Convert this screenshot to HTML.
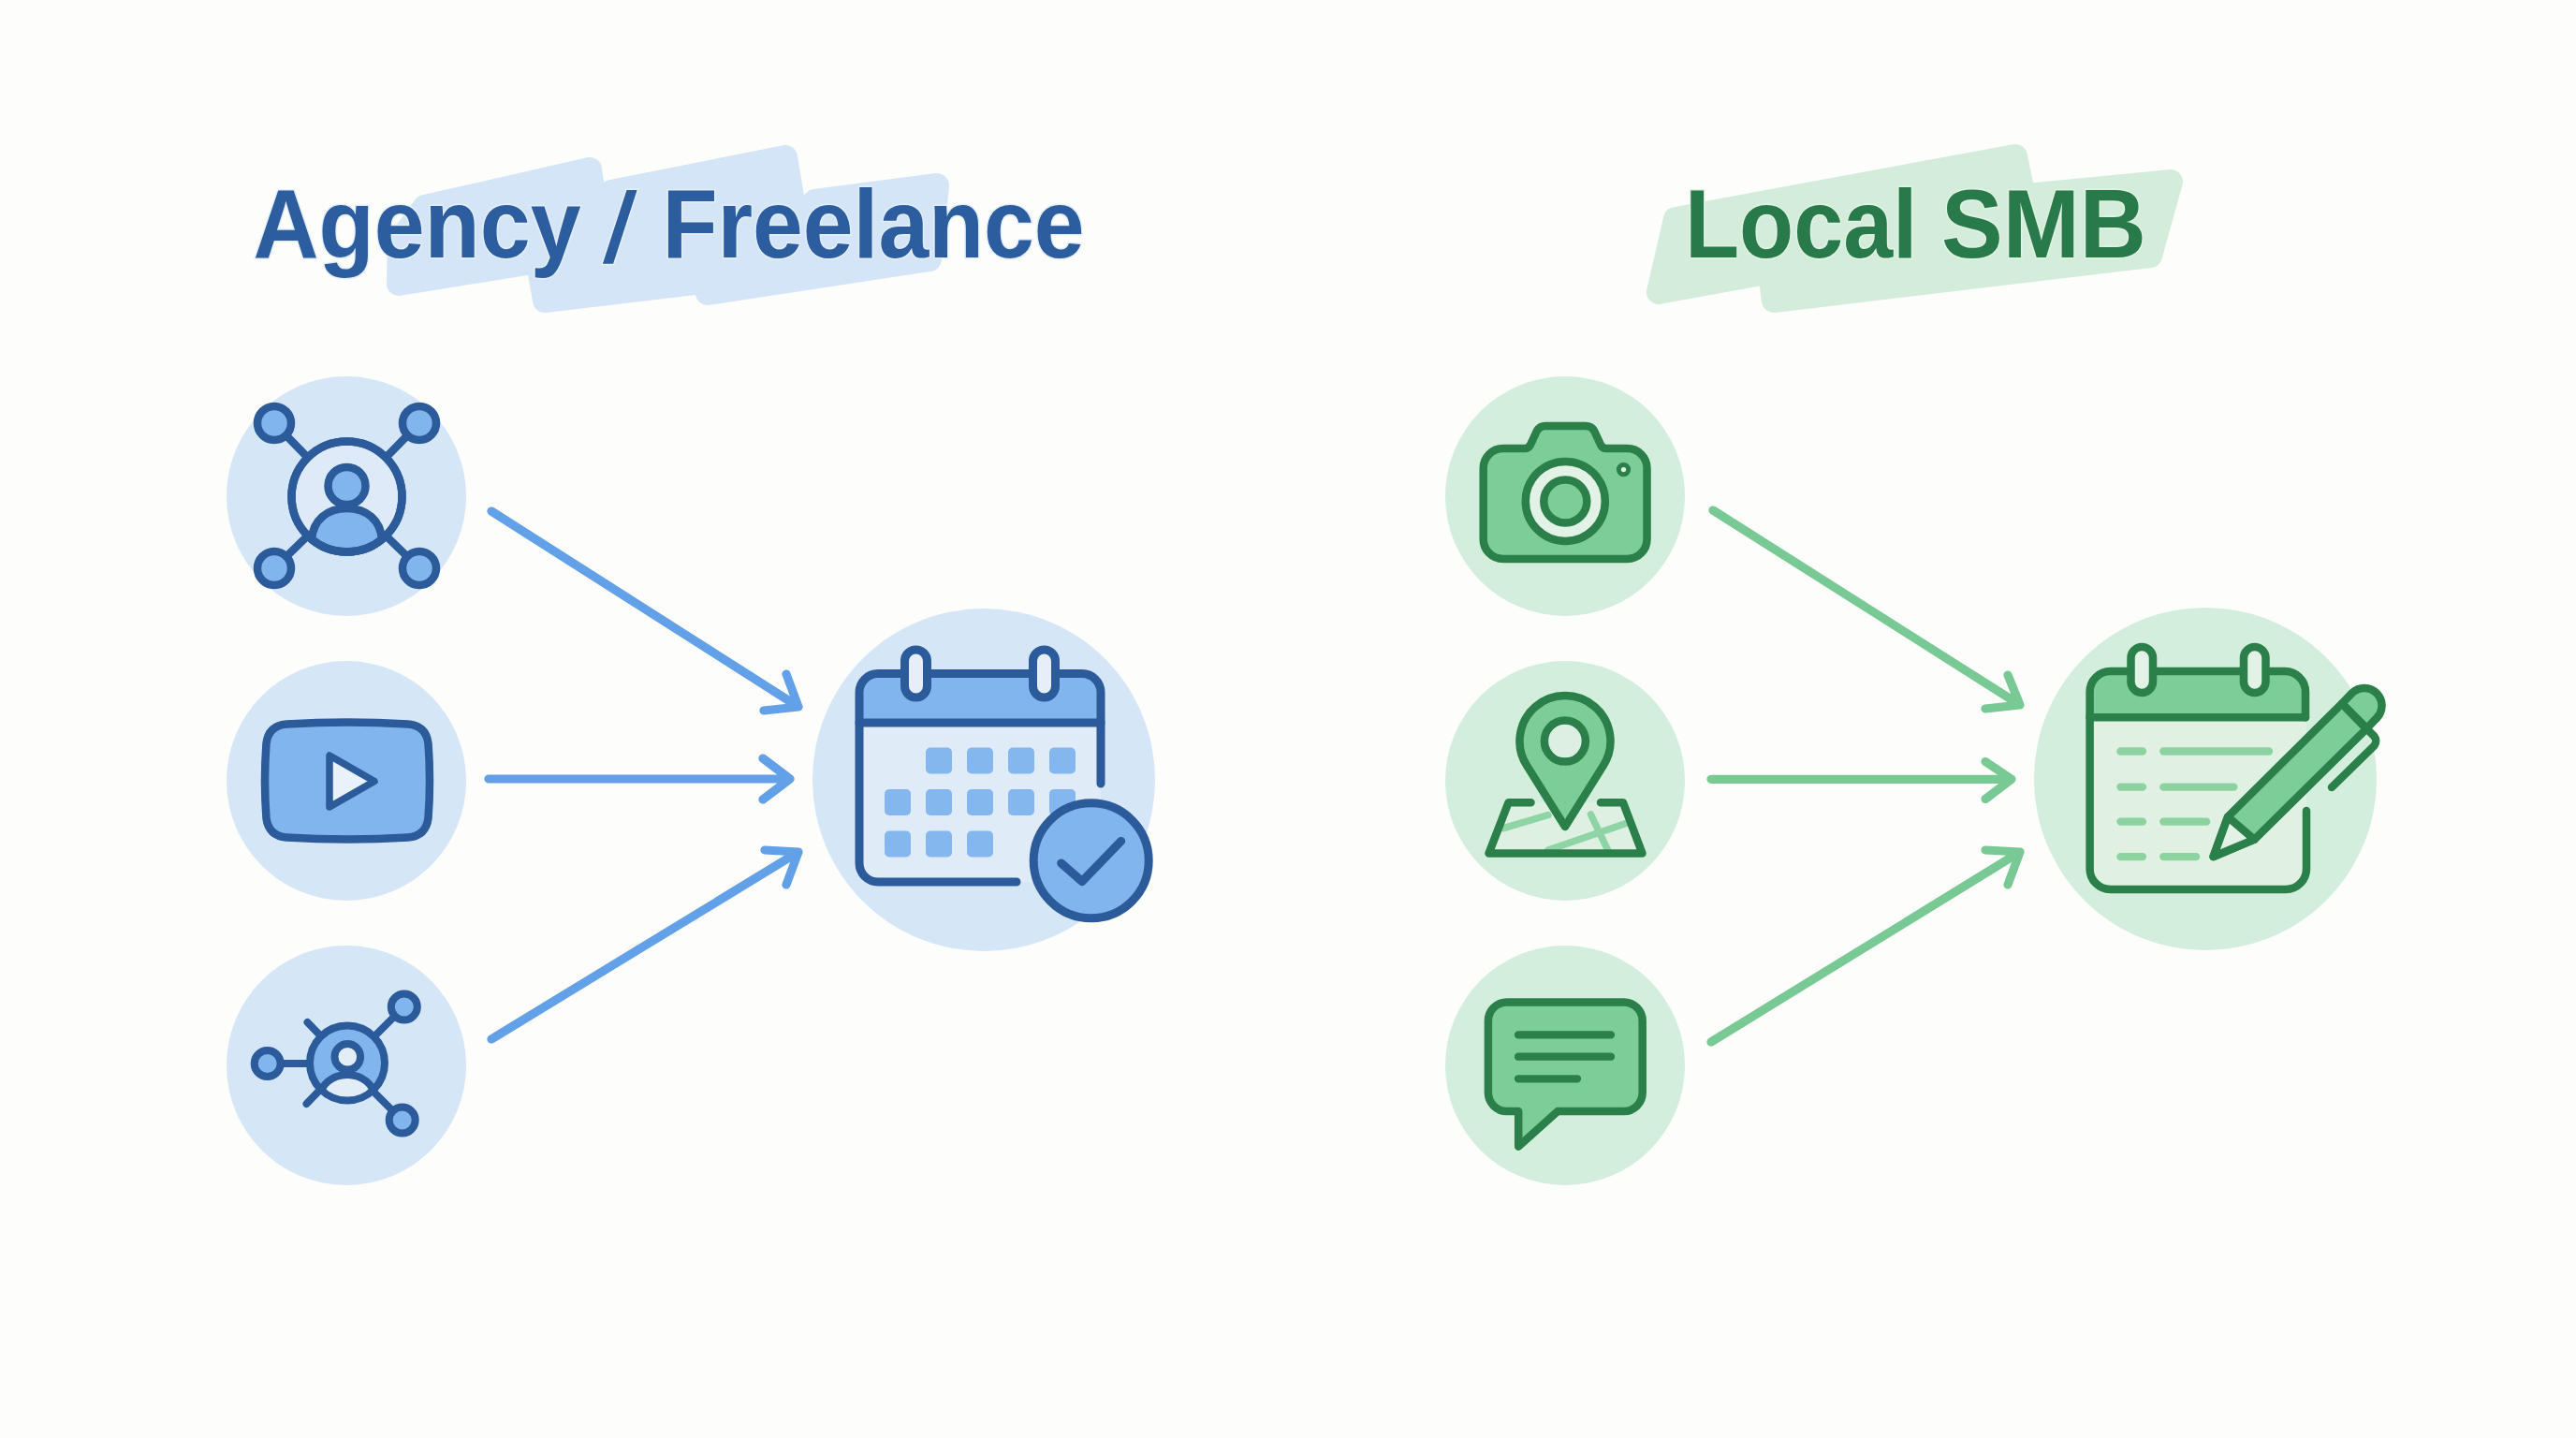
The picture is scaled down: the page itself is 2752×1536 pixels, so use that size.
<!DOCTYPE html>
<html><head><meta charset="utf-8">
<style>
html,body{margin:0;padding:0;width:2752px;height:1536px;overflow:hidden;background:#FDFDFB;}
svg{position:absolute;left:0;top:0;display:block;}
</style></head>
<body>
<svg width="2752" height="1536" viewBox="0 0 2752 1536">
<defs>
<clipPath id="ring3"><circle cx="371" cy="1135.5" r="40"/></clipPath><clipPath id="ring3o"><circle cx="371" cy="1135.5" r="42"/></clipPath>
</defs>

<!-- ===== TITLE HIGHLIGHTS ===== -->
<g fill="#D3E5F6" stroke="#D3E5F6" stroke-width="26" stroke-linejoin="round">
<polygon points="454,221 630,181 643,268 426,303 427,258"/>
<polygon points="653,205 839,168 859,288 582,321 577,292"/>
<polygon points="871,215 1001,198 993,277 756,313"/>
</g>
<g fill="#D3EDDA" stroke="#D3EDDA" stroke-width="26" stroke-linejoin="round">
<polygon points="1790,234 2153,167 2168,240 1772,312"/>
<polygon points="1884,236 2319,194 2297,273 1895,321"/>
</g>

<!-- ===== TITLES ===== -->
<g font-family="'Liberation Sans', sans-serif" font-weight="bold" font-size="104">
<text transform="translate(270.5,275) scale(0.932,1)" fill="#2B5D9F" stroke="#E4EEFA" stroke-width="3" paint-order="stroke">Agency</text>
<polygon points="643.9,281.8 655.1,281.8 680.6,202.9 669.5,202.9" fill="#2B5D9F" stroke="#E6F0FA" stroke-width="3" paint-order="stroke"/>
<text transform="translate(707.5,275) scale(0.929,1)" fill="#2B5D9F" stroke="#E4EEFA" stroke-width="3" paint-order="stroke">Freelance</text>
<text transform="translate(1800,275) scale(0.915,1)" fill="#287A4B" stroke="#E1F2E5" stroke-width="3" paint-order="stroke">Local</text>
<text transform="translate(2074,275) scale(0.947,1)" fill="#287A4B" stroke="#E1F2E5" stroke-width="3" paint-order="stroke">SMB</text>
</g>

<!-- ===== BLUE CIRCLES ===== -->
<g fill="#D5E6F7">
<circle cx="370" cy="530" r="128"/>
<circle cx="370" cy="834" r="128"/>
<circle cx="370" cy="1138" r="128"/>
<circle cx="1051" cy="833" r="183"/>
</g>
<!-- ===== GREEN CIRCLES ===== -->
<g fill="#D3EEDD">
<circle cx="1672" cy="530" r="128"/>
<circle cx="1672" cy="834" r="128"/>
<circle cx="1672" cy="1138" r="128"/>
<circle cx="2356" cy="832" r="183"/>
</g>

<!-- ===== BLUE ARROWS ===== -->
<g fill="none" stroke="#62A0E8" stroke-width="9.2" stroke-linecap="round" stroke-linejoin="round">
<path d="M525 546 L853 755 M840 720 L853 755 L816 759"/>
<path d="M522 832 L844 832 M815 810 L844 832 L815 854"/>
<path d="M525 1110 L853 910 M817 908 L853 910 L840 945"/>
</g>
<!-- ===== GREEN ARROWS ===== -->
<g fill="none" stroke="#78C994" stroke-width="9.2" stroke-linecap="round" stroke-linejoin="round">
<path d="M1830 545 L2158 753 M2145 721 L2158 753 L2121 757"/>
<path d="M1828 832.3 L2149 832.3 M2121 813.5 L2149 832.3 L2121 853.5"/>
<path d="M1828 1113 L2158 910 M2121 908 L2158 910 L2145 945"/>
</g>

<!-- ===== ICON: network 1 ===== -->
<g stroke="#2B5B9B" stroke-width="8.5" stroke-linecap="round" stroke-linejoin="round">
<path d="M293 452 L329 489 M448 452 L412 489 M293 607 L329 572 M448 607 L412 572" fill="none"/>
<circle cx="370.5" cy="530.5" r="59" fill="#DEEAF7"/>
<circle cx="293" cy="452" r="18" fill="#80B5ED"/>
<circle cx="448" cy="452" r="18" fill="#80B5ED"/>
<circle cx="293" cy="607" r="18" fill="#80B5ED"/>
<circle cx="448" cy="607" r="18" fill="#80B5ED"/>
<circle cx="370.5" cy="519" r="20" fill="#80B5ED"/>
<path d="M333 576 C 334.5 556, 349 543, 370.5 543 C 392 543, 406.5 556, 408 576 A 59 59 0 0 1 333 576 Z" fill="#80B5ED"/>
<circle cx="370.5" cy="530.5" r="59" fill="none"/>
</g>

<!-- ===== ICON: video ===== -->
<g stroke="#2B5B9B" stroke-width="8.5" stroke-linecap="round" stroke-linejoin="round">
<path d="M306 773.5 Q 371 769.5 436 773.5 Q 455 775 457.5 794 Q 460.5 834 457.5 874 Q 455 893 436 894.5 Q 371 898.5 306 894.5 Q 287 893 284.5 874 Q 281.5 834 284.5 794 Q 287 775 306 773.5 Z" fill="#80B5ED"/>
<path d="M352 807 L352 862 L400 834.5 Z" fill="#E9F1FA" stroke-width="7.5"/>
</g>

<!-- ===== ICON: network 3 ===== -->
<g stroke="#2B5B9B" stroke-width="8" stroke-linecap="round" stroke-linejoin="round" fill="none">
<path d="M300 1136 L331 1136 M421 1086 L399 1108 M399 1166 L419 1186 M328.5 1092 L343 1107 M327.5 1179 L340 1166"/>
<circle cx="371" cy="1135.5" r="40" fill="#80B5ED" stroke="none"/>
<g clip-path="url(#ring3)"><ellipse cx="371" cy="1170" rx="29" ry="24" fill="#E3EDF8" stroke="none"/></g>
<path d="M342 1172 A 29 24 0 0 1 400 1172" clip-path="url(#ring3o)"/>
<circle cx="371.3" cy="1128.8" r="13.8" fill="#E3EDF8"/>
<circle cx="371" cy="1135.5" r="40"/>
<circle cx="285.7" cy="1136" r="14" fill="#80B5ED"/>
<circle cx="431.8" cy="1075.5" r="14" fill="#80B5ED"/>
<circle cx="429.7" cy="1196.5" r="14" fill="#80B5ED"/>
</g>

<!-- ===== ICON: blue calendar ===== -->
<g stroke="#2B5B9B" stroke-width="9" stroke-linecap="round" stroke-linejoin="round">
<path d="M918 771.9 L918 922 A 20 20 0 0 0 938 942 L1176 942 L1176 771.9 Z" fill="#DFEBF7" stroke="none"/>
<path d="M918 771.9 L918 739.6 A 20 20 0 0 1 938 719.6 L1156 719.6 A 20 20 0 0 1 1176 739.6 L1176 771.9 Z" fill="#80B5ED" stroke="none"/>
<g fill="#80B5ED" stroke="none" opacity="0.95">
<rect x="989" y="798.5" width="28" height="28" rx="5"/><rect x="1033" y="798.5" width="28" height="28" rx="5"/><rect x="1077" y="798.5" width="28" height="28" rx="5"/><rect x="1121" y="798.5" width="28" height="28" rx="5"/>
<rect x="945" y="843" width="28" height="28" rx="5"/><rect x="989" y="843" width="28" height="28" rx="5"/><rect x="1033" y="843" width="28" height="28" rx="5"/><rect x="1077" y="843" width="28" height="28" rx="5"/><rect x="1121" y="843" width="28" height="28" rx="5"/>
<rect x="945" y="887.5" width="28" height="28" rx="5"/><rect x="989" y="887.5" width="28" height="28" rx="5"/><rect x="1033" y="887.5" width="28" height="28" rx="5"/>
</g>
<path d="M1176 837 L1176 739.6 A 20 20 0 0 0 1156 719.6 L938 719.6 A 20 20 0 0 0 918 739.6 L918 922 A 20 20 0 0 0 938 942 L1086 942" fill="none"/>
<path d="M918 771.9 L1176 771.9" fill="none"/>
<rect x="966.5" y="694" width="24" height="51" rx="12" fill="#E6EEF8"/>
<rect x="1103.5" y="694" width="24" height="51" rx="12" fill="#E6EEF8"/>
<circle cx="1165.7" cy="919.3" r="61.5" fill="#80B5ED"/>
<path d="M1133.7 922 L1156 941.5 L1197.7 898.4" fill="none"/>
</g>

<!-- ===== ICON: camera ===== -->
<g stroke="#2A8048" stroke-width="8.5" stroke-linecap="round" stroke-linejoin="round">
<path d="M1605.7 479 L1629 479 Q 1633 479 1635 475 L1642 460 Q 1645 455 1651 455 L1694 455 Q 1700 455 1703 460 L1710 475 Q 1712 479 1716 479 L1738.5 479 A 21 21 0 0 1 1759.5 500 L1759.5 576 A 21 21 0 0 1 1738.5 597 L1605.7 597 A 21 21 0 0 1 1584.7 576 L1584.7 500 A 21 21 0 0 1 1605.7 479 Z" fill="#7DCD96"/>
<circle cx="1672.3" cy="535.4" r="42.5" fill="#E3F2E7"/>
<circle cx="1672.3" cy="535.4" r="23" fill="#7DCD96"/>
<circle cx="1734.5" cy="501.6" r="5.2" fill="#E3F2E7" stroke-width="5"/>
</g>

<!-- ===== ICON: map pin ===== -->
<g stroke-linecap="round" stroke-linejoin="round">
<path d="M1611.5 857.3 L1590.5 911.6 L1754.5 911.6 L1734 857.3 Z" fill="#DDF0E2" stroke="none"/>
<path d="M1606.4 884.6 L1654 870.5 M1654 908 L1737 879.5 M1699.5 870 L1717.4 907.5" stroke="#8FD4A4" stroke-width="7.5" fill="none"/>
<path d="M1635.5 857.3 L1611.5 857.3 L1590.5 911.6 L1754.5 911.6 L1734 857.3 L1710 857.3" stroke="#2A8048" stroke-width="8.5" fill="none"/>
<path d="M1672 883 L1631.3 818 A 48.5 48.5 0 1 1 1712.7 818 Z" fill="#7DCD96" stroke="#2A8048" stroke-width="8.5"/>
<circle cx="1671.9" cy="791.6" r="22" fill="#DDEFE2" stroke="#2A8048" stroke-width="8.5"/>
</g>

<!-- ===== ICON: chat ===== -->
<g stroke="#2A8048" stroke-width="8.5" stroke-linecap="round" stroke-linejoin="round">
<path d="M1609.9 1070.4 L1734.7 1070.4 A 20 20 0 0 1 1754.7 1090.4 L1754.7 1167.1 A 20 20 0 0 1 1734.7 1187.1 L1664 1187.1 L1622.2 1224.7 L1622.2 1187.1 L1609.9 1187.1 A 20 20 0 0 1 1589.9 1167.1 L1589.9 1090.4 A 20 20 0 0 1 1609.9 1070.4 Z" fill="#7DCD96"/>
<path d="M1622 1105.4 L1721 1105.4 M1622 1128.7 L1721 1128.7 M1622 1152.3 L1685 1152.3" fill="none" stroke-width="8.3"/>
</g>

<!-- ===== ICON: green calendar ===== -->
<g stroke="#2A8048" stroke-width="8.5" stroke-linecap="round" stroke-linejoin="round">
<path d="M2232.6 766.3 L2232.6 928 A 22 22 0 0 0 2254.6 950 L2442 950 A 22 22 0 0 0 2464 928 L2464 766.3 Z" fill="#E0F1E4" stroke="none"/>
<path d="M2232.6 766.3 L2232.6 739 A 22 22 0 0 1 2254.6 717 L2441 717 A 22 22 0 0 1 2463 739 L2463 766.3 Z" fill="#7DCD96" stroke="none"/>
<path d="M2265.4 802.5 L2289 802.5 M2311.3 802.5 L2424 802.5 M2265.4 840.6 L2289 840.6 M2311.3 840.6 L2386.4 840.6 M2265.4 877.6 L2289 877.6 M2311.3 877.6 L2357.2 877.6 M2265.4 915.1 L2289 915.1 M2311.3 915.1 L2346.1 915.1" stroke="#8CD3A0" stroke-width="8.3" fill="none"/>
<path d="M2463 766.3 L2463 739 A 22 22 0 0 0 2441 717 L2254.6 717 A 22 22 0 0 0 2232.6 739 L2232.6 928 A 22 22 0 0 0 2254.6 950 L2442 950 A 22 22 0 0 0 2464 928 L2464 866" fill="none"/>
<path d="M2232.6 766.3 L2463 766.3" fill="none"/>
<rect x="2276.5" y="691" width="23.5" height="49" rx="11.75" fill="#E3F2E7"/>
<rect x="2397" y="691" width="23.5" height="49" rx="11.75" fill="#E3F2E7"/>
<!-- pencil -->
<path d="M2364.6 915 L2380 872.6 L2502 751.4 L2528.2 778.4 L2408.4 896.7 Z" fill="#7DCD96"/>
<path d="M2364.6 915 L2380 872.6 L2408.4 896.7 Z" fill="#E3F2E7"/>
<path d="M2502 751.4 L2513 740 A 18.75 18.75 0 0 1 2539.5 766.5 L2528.2 778.4 Z" fill="#7DCD96"/>
<path d="M2503.3 752.9 L2526.7 776.2 M2522 772 L2536 786 A 8 8 0 0 1 2536 797 L2491 841" fill="none"/>
</g>

</svg>
</body></html>
